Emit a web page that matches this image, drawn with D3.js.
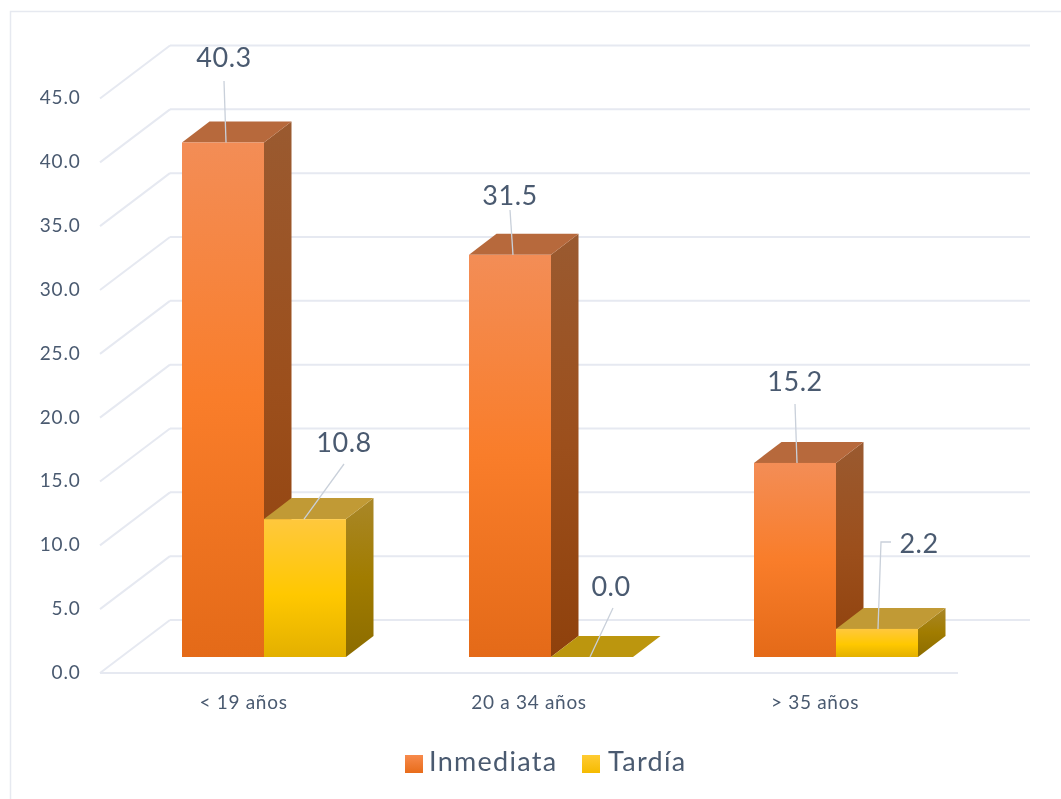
<!DOCTYPE html>
<html><head><meta charset="utf-8">
<script src="https://cdn.jsdelivr.net/npm/d3@7"></script>
<style>html,body{margin:0;background:#fff}svg{display:block;filter:blur(0.4px)}text{font-family:Lato,"Open Sans",sans-serif;fill:#4a5a70}</style>
</head><body><svg id="c" width="1061" height="799"></svg>
<script>
const categories = ["< 19 años","20 a 34 años","> 35 años"];
const seriesNames = ["Inmediata","Tardía"];
const inmediata = [40.3,31.5,15.2];
const tardia = [10.8,0.0,2.2];
const yTicks = [0,5,10,15,20,25,30,35,40,45];
const tickFormat = d3.format(".1f");

const W=1061,H=799,dx=27.5,dy=21;
const svg=d3.select("#c");
const y=d3.scaleLinear().domain([0,45]).range([657,82.5]);
const x0=d3.scaleOrdinal().domain(categories).range([182,469,754]);
const bw=82;
const defs=svg.append("defs");
function grad(id,stops){const g=defs.append("linearGradient").attr("id",id).attr("x1",0).attr("y1",0).attr("x2",0).attr("y2",1);
 stops.forEach(s=>g.append("stop").attr("offset",s[0]).attr("stop-color",s[1]));}
grad("oF",[[0,"#f38d56"],[.5,"#f97d2a"],[1,"#e46a18"]]);
grad("oS",[[0,"#9a5a30"],[.5,"#9c4f1c"],[1,"#8f410c"]]);
grad("yF",[[0,"#ffc83d"],[.55,"#ffc800"],[1,"#e3b000"]]);
grad("yS",[[0,"#a98728"],[.5,"#a17c00"],[1,"#8c6c00"]]);
grad("lo",[[0,"#f78a4c"],[1,"#e86c1a"]]);
grad("ly",[[0,"#ffcb33"],[1,"#f5bb00"]]);

// frame
svg.append("path").attr("d",`M10.5,799V11.5H${W}`).attr("fill","none").attr("stroke","#e6e9f0").attr("stroke-width",1.5);

// gridlines: back wall, side wall
const fy=v=>y(v)+16;    // front edge y
const g=svg.append("g").attr("fill","none").attr("stroke","#e6e9f1").attr("stroke-width",2);
yTicks.forEach(v=>{
 g.append("line").attr("x1",170).attr("x2",1030).attr("y1",fy(v)-53).attr("y2",fy(v)-53);
 g.append("line").attr("x1",100).attr("x2",170).attr("y1",fy(v)).attr("y2",fy(v)-53);
});
g.append("line").attr("x1",100).attr("x2",958).attr("y1",fy(0)).attr("y2",fy(0));

// tick labels
svg.append("g").selectAll("text").data(yTicks).join("text")
 .attr("x",80.5).attr("y",d=>fy(d)-1).attr("dy","0.36em").attr("text-anchor","end")
 .attr("font-size",19).attr("letter-spacing",0.8).text(tickFormat);

function bar(x,v,face,side,top){
 const yt=y(v),yb=y(0),w=bw;
 const b=svg.append("g");
 b.append("path").attr("d",`M${x+w},${yt}L${x+w+dx},${yt-dy}V${yb-dy}L${x+w},${yb}Z`).attr("fill",v>0?`url(#${side})`:top);
 b.append("path").attr("d",`M${x},${yt}L${x+dx},${yt-dy}H${x+w+dx}L${x+w},${yt}Z`).attr("fill",top);
 if(v>0)b.append("rect").attr("x",x).attr("y",yt).attr("width",w).attr("height",yb-yt).attr("fill",`url(#${face})`);
}
categories.forEach((c,i)=>{
 const x=x0(c);
 bar(x,inmediata[i],"oF","oS","#b7693c");
 bar(x+bw,tardia[i],"yF","yS",tardia[i]>0?"#c19a35":"#bc960e");
});

// category labels
svg.append("g").selectAll("text").data(categories).join("text")
 .attr("x",(d,i)=>[243.5,529,815][i]).attr("y",709).attr("text-anchor","middle")
 .attr("font-size",19).attr("letter-spacing",0.7).text(d=>d);

// data labels & leaders
const lead=svg.append("g").attr("fill","none").attr("stroke","#c9d0da").attr("stroke-width",1.3);
const labels=[
 {v:inmediata[0],x:x0(categories[0])+bw/2+3,lx:224,ly:81,tx:224,ty:57},
 {v:tardia[0],x:x0(categories[0])+bw*1.5-1,lx:344,ly:464,tx:344,ty:442},
 {v:inmediata[1],x:x0(categories[1])+bw/2+3,lx:510,ly:210,tx:510,ty:195},
 {v:tardia[1],x:x0(categories[1])+bw*1.5-2,lx:613,ly:608,tx:611,ty:586},
 {v:inmediata[2],x:x0(categories[2])+bw/2+2,lx:795,ly:404,tx:795,ty:381},
 {v:tardia[2],x:x0(categories[2])+bw*1.5+1,lx:881,ly:542,tx:919,ty:543,elbow:true}
];
labels.forEach(l=>{
 const by=y(l.v);
 lead.append("path").attr("d",l.elbow?`M${l.x},${by}L${l.lx},${l.ly}H${l.lx+10}`:`M${l.x},${by}L${l.lx},${l.ly}`);
});
svg.append("g").selectAll("text").data(labels).join("text")
 .attr("x",d=>d.tx).attr("y",d=>d.ty).attr("dy","0.36em").attr("text-anchor","middle")
 .attr("font-size",27).attr("letter-spacing",0.5).text(d=>tickFormat(d.v));

// legend
const lg=svg.append("g");
[[405,429,"lo"],[582,608,"ly"]].forEach((p,i)=>{
 lg.append("rect").attr("x",p[0]).attr("y",755).attr("width",18).attr("height",18).attr("fill",`url(#${p[2]})`);
 lg.append("text").attr("x",p[1]).attr("y",771).attr("font-size",27).attr("letter-spacing",1.3).text(seriesNames[i]);
});
</script></body></html>
